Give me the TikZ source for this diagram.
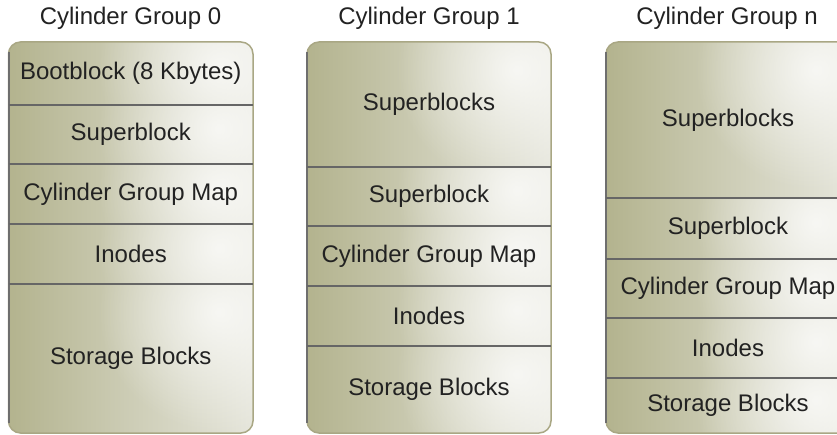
\documentclass[tikz,border=0pt]{standalone}
\usepackage{fontspec}
\setmainfont{Liberation Sans}
\usetikzlibrary{fadings}
\definecolor{olL}{HTML}{B3B38E}
\definecolor{olM}{HTML}{CDCDB6}
\definecolor{olR}{HTML}{E6E6DC}
\definecolor{edgeOl}{HTML}{A9A784}
\definecolor{edgeGr}{HTML}{6E6E6E}
\definecolor{divGr}{HTML}{666666}
\definecolor{txt}{HTML}{222222}
\tikzfading[name=glow, inner color=transparent!0, outer color=transparent!100]
\tikzset{
  lbl/.style={font=\fontsize{24}{28}\selectfont, text=txt, inner sep=0pt},
  ttl/.style={font=\fontsize{24}{28}\selectfont, text=txt, inner sep=0pt},
  divline/.style={draw=divGr, line width=2pt},
  outline/.style={draw=edgeOl, line width=1.5pt, rounded corners=12pt},
  leftedge/.style={draw=edgeGr, line width=2pt},
}
% #1 x0, #2 x1, #3 ytop, #4 ybot, #5 name, #6 text
\newcommand\cgpart[6]{%
  \begin{scope}
    \clip (#1,#3) rectangle (#2,#4);
    \shade[left color=olL, right color=olR, middle color=olM] (#1,#3) rectangle (#2,#4);
    \fill[white, opacity=0.75, path fading=glow] ({#2-35},{#3+min(28,(#4-#3)*0.4)}) circle (120);
  \end{scope}
  \node[lbl] (#5) at ({(#1+#2)/2},{(#3+#4)/2}) {#6};
}
% #1 x0, #2 x1
\newcommand\cgcolumn[3]{%
  \begin{scope}
    \clip[rounded corners=12pt] (#1,42) rectangle (#2,433);
    #3
  \end{scope}
  \draw[outline] (#1,42) rectangle (#2,433);
  \draw[leftedge] (#1,52) -- (#1,423);
}
\begin{document}
\begin{tikzpicture}[x=1pt,y=-1pt]
\useasboundingbox (0,0) rectangle (837,435);
\fill[white] (0,0) rectangle (837,435);

% Column 0
\cgcolumn{8.5}{253}{%
  \cgpart{8.5}{253}{42}{105}{a1}{Bootblock (8 Kbytes)}
  \cgpart{8.5}{253}{105}{164}{a2}{Superblock}
  \cgpart{8.5}{253}{164}{224}{a3}{Cylinder Group Map}
  \cgpart{8.5}{253}{224}{284}{a4}{Inodes}
  \cgpart{8.5}{253}{284}{433}{a5}{Storage Blocks}
}
\foreach \y in {105,164,224,284} \draw[divline] (8.5,\y) -- (253,\y);

% Column 1
\cgcolumn{307}{551}{%
  \cgpart{307}{551}{42}{167}{b1}{Superblocks}
  \cgpart{307}{551}{167}{226}{b2}{Superblock}
  \cgpart{307}{551}{226}{286}{b3}{Cylinder Group Map}
  \cgpart{307}{551}{286}{346}{b4}{Inodes}
  \cgpart{307}{551}{346}{433}{b5}{Storage Blocks}
}
\foreach \y in {167,226,286,346} \draw[divline] (307,\y) -- (551,\y);

% Column n
\cgcolumn{606}{850}{%
  \cgpart{606}{850}{42}{198}{c1}{Superblocks}
  \cgpart{606}{850}{198}{259}{c2}{Superblock}
  \cgpart{606}{850}{259}{318}{c3}{Cylinder Group Map}
  \cgpart{606}{850}{318}{378}{c4}{Inodes}
  \cgpart{606}{850}{378}{433}{c5}{Storage Blocks}
}
\foreach \y in {198,259,318,378} \draw[divline] (606,\y) -- (850,\y);

% Titles
\node[ttl] (t0) at (130.5,18) {Cylinder Group 0};
\node[ttl] (t1) at (429,18) {Cylinder Group 1};
\node[ttl] (tn) at (727,18) {Cylinder Group n};
\end{tikzpicture}
\end{document}
